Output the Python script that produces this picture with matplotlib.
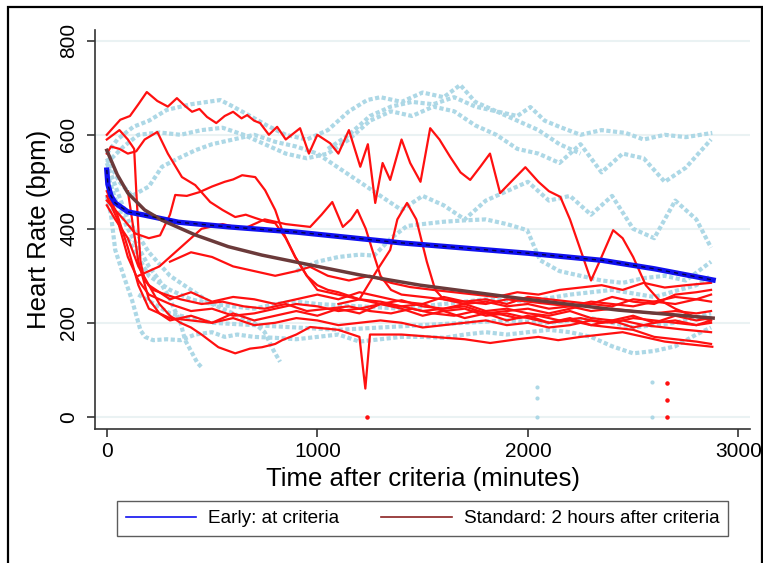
import matplotlib
matplotlib.use("Agg")
import matplotlib.pyplot as plt
from matplotlib.lines import Line2D
from matplotlib.patches import Rectangle

plt.rcParams['font.family'] = ['Liberation Sans', 'DejaVu Sans']

# ---- data (minutes, bpm) ----
# early group individual traces (light blue)
early_x1 = [0, 50, 126, 200, 285, 400, 539, 600, 681, 760, 850, 950, 1050, 1150, 1237, 1300, 1400, 1500, 1600,
            1679, 1750, 1850, 1950, 2012, 2080, 2150, 2250, 2350, 2464, 2550, 2650, 2750, 2876]
early_y1 = [560, 590, 617, 630, 653, 665, 674, 660, 640, 620, 600, 590, 610, 650, 674, 680, 670, 690, 680,
            706, 670, 650, 640, 659, 630, 617, 600, 610, 604, 590, 600, 595, 604]
early_x2 = [0, 80, 150, 250, 350, 450, 550, 650, 750, 850, 950, 1050, 1150, 1250, 1350, 1450, 1550, 1650,
            1750, 1850, 1950, 2050, 2150, 2250, 2350, 2450, 2550, 2650, 2750, 2870]
early_y2 = [540, 575, 600, 605, 600, 610, 615, 600, 580, 560, 550, 560, 590, 630, 650, 640, 660, 650,
            620, 600, 570, 560, 540, 580, 520, 560, 550, 500, 530, 590]
early_x3 = [0, 60, 120, 200, 262, 340, 420, 500, 600, 700, 800, 900, 1000, 1100, 1200, 1300, 1400, 1500,
            1600, 1700, 1800, 1900, 2000, 2100, 2200, 2300, 2400, 2500, 2600, 2700, 2800, 2870]
early_y3 = [550, 500, 470, 490, 532, 550, 567, 580, 590, 600, 585, 575, 560, 530, 500, 470, 440, 470,
            450, 420, 460, 480, 500, 460, 470, 430, 470, 400, 380, 460, 420, 360]
early_x4 = [900, 1000, 1100, 1200, 1270, 1350, 1426, 1500, 1600, 1700, 1800, 1900, 1997, 2058, 2150, 2250,
            2350, 2450, 2550, 2650, 2750, 2870]
early_y4 = [310, 330, 340, 345, 343, 380, 406, 410, 415, 418, 420, 410, 397, 333, 310, 300, 290, 285, 295,
            300, 290, 330]
early_x5 = [0, 20, 40, 80, 120, 160, 182, 220, 285, 350, 420, 500, 560, 620, 700, 800, 900, 1000, 1100,
            1200, 1300, 1400, 1500, 1600, 1700, 1800, 1900, 2000, 2100, 2200, 2300, 2400, 2500, 2600, 2700,
            2800, 2870]
early_y5 = [470, 430, 355, 300, 248, 184, 170, 163, 165, 163, 175, 180, 170, 175, 170, 168, 165, 170, 175,
            160, 165, 170, 170, 168, 175, 180, 175, 180, 185, 180, 170, 150, 135, 140, 150, 175, 190]
early_x6 = [0, 50, 100, 150, 200, 250, 300, 350, 372, 400, 430, 453]
early_y6 = [520, 450, 400, 360, 320, 290, 250, 200, 163, 140, 115, 104]
early_x7 = [0, 100, 200, 300, 400, 500, 600, 700, 750, 791, 823]
early_y7 = [540, 420, 350, 300, 270, 240, 220, 200, 180, 142, 117]
early_x8 = [100, 200, 300, 400, 500, 600, 700, 800, 900, 1000, 1200, 1400, 1600, 1800, 2000, 2200, 2400,
            2600, 2800, 2870]
early_y8 = [380, 300, 270, 250, 240, 235, 230, 240, 245, 240, 235, 230, 240, 250, 245, 260, 270, 255, 280, 300]
early_x9 = [150, 300, 500, 700, 900, 1100, 1300, 1500, 1700, 1900, 2100, 2300, 2500, 2700, 2870]
early_y9 = [260, 220, 200, 195, 190, 185, 190, 195, 200, 205, 200, 210, 190, 200, 220]
early_x10 = [1050, 1150, 1250, 1350, 1450, 1550, 1650, 1750, 1850, 1950, 2050, 2150, 2250]
early_y10 = [570, 600, 640, 660, 670, 665, 680, 660, 650, 630, 610, 580, 560]
early_out_x = [2045, 2045, 2045, 2590, 2590]
early_out_y = [63, 40, 0, 73, 0]

# standard group individual traces (red)
std_x1 = [0, 30, 64, 110, 150, 190, 240, 290, 333, 370, 405, 440, 476, 520, 560, 600, 640, 667, 700, 728,
          770, 809, 850, 918, 960, 1000, 1061, 1100, 1150, 1204, 1240, 1275, 1310, 1346, 1400, 1441, 1490,
          1536, 1580, 1631, 1680, 1726, 1774, 1820, 1868, 1920, 1988, 2050, 2100, 2154, 2200, 2264, 2300,
          2340, 2405, 2450, 2500, 2560, 2620, 2700, 2780, 2870]
std_y1 = [600, 615, 632, 640, 665, 691, 672, 660, 678, 662, 649, 655, 638, 625, 640, 649, 635, 642, 630, 625,
          600, 617, 590, 614, 560, 600, 582, 560, 610, 532, 580, 455, 540, 504, 590, 540, 500,
          614, 590, 553, 520, 504, 532, 560, 476, 500, 531, 500, 480, 468, 420, 337, 290,
          330, 397, 380, 340, 280, 250, 230, 215, 205]
std_x2 = [0, 20, 60, 100, 140, 180, 240, 290, 357, 420, 491, 550, 610, 660, 705, 760, 800, 850, 895, 950,
          1000, 1100, 1200, 1300, 1400, 1500, 1600, 1700, 1800, 1900, 2000, 2100, 2200, 2300, 2400, 2500,
          2600, 2700, 2800, 2870]
std_y2 = [560, 575, 570, 560, 565, 590, 606, 560, 510, 493, 457, 440, 425, 430, 423, 415, 412, 380, 340, 300,
          270, 260, 250, 240, 248, 235, 230, 240, 225, 230, 220, 215, 225, 210, 205, 215, 200, 205, 195, 200]
std_x3 = [0, 40, 80, 135, 200, 253, 300, 325, 380, 440, 500, 560, 600, 643, 705, 752, 800, 833, 895, 950,
          1000, 1050, 1100, 1200, 1300, 1400, 1500, 1600, 1700, 1800, 1900, 2000, 2100, 2200, 2300, 2400,
          2500, 2600, 2700, 2800, 2870]
std_y3 = [460, 440, 420, 390, 380, 386, 430, 472, 470, 478, 490, 500, 505, 514, 510, 482, 440, 397, 340, 300,
          280, 270, 265, 250, 245, 235, 240, 225, 230, 215, 220, 210, 200, 205, 195, 190, 185, 170, 165, 160,
          155]
std_x4 = [150, 250, 350, 450, 550, 650, 750, 850, 966, 1020, 1071, 1121, 1160, 1190, 1230, 1266, 1300, 1350,
          1400, 1500, 1600, 1700, 1800, 1900, 2000, 2100, 2200, 2300, 2400, 2500, 2600, 2700, 2800, 2870]
std_y4 = [300, 320, 360, 400, 410, 400, 420, 410, 404, 430, 457, 404, 420, 440, 400, 348, 300, 270, 260, 255,
          250, 245, 240, 250, 245, 240, 235, 245, 240, 235, 245, 240, 250, 245]
std_x5 = [1100, 1200, 1284, 1346, 1380, 1426, 1470, 1520, 1560, 1600, 1700, 1800, 1900, 2000, 2100, 2200,
          2300, 2400, 2500, 2600, 2700, 2800, 2870]
std_y5 = [240, 250, 312, 355, 420, 455, 420, 330, 270, 250, 240, 245, 235, 240, 230, 235, 225, 230, 225,
          220, 225, 220, 225]
std_x6 = [0, 30, 60, 100, 130, 140, 150, 160, 180, 220, 280, 350, 450, 550, 650, 750, 850, 950, 1050, 1150,
          1250, 1350, 1450, 1550, 1650, 1750, 1850, 1950, 2050, 2150, 2250, 2350, 2450, 2550, 2650, 2750, 2870]
std_y6 = [590, 600, 610, 590, 570, 480, 400, 330, 290, 270, 260, 250, 240, 245, 235, 230, 240, 225, 230, 235,
          225, 220, 230, 220, 215, 225, 220, 210, 215, 205, 210, 200, 205, 195, 190, 185, 180]
std_x7 = [0, 50, 100, 150, 200, 300, 400, 500, 600, 700, 800, 900, 1000, 1100, 1200, 1300, 1400, 1500, 1600,
          1700, 1800, 1900, 2000, 2100, 2200, 2300, 2400, 2500, 2600, 2700, 2800, 2870]
std_y7 = [470, 420, 340, 290, 260, 240, 225, 230, 215, 220, 230, 240, 235, 225, 230, 240, 235, 225, 230, 235,
          220, 225, 230, 220, 230, 240, 235, 250, 245, 255, 250, 260]
std_y8 = [480, 430, 360, 280, 230, 210, 205, 200, 210, 195, 200, 210, 205, 195, 200, 205, 200, 190, 195, 200,
          205, 195, 200, 190, 195, 205, 200, 210, 205, 200, 195, 205]
std_x9 = [0, 40, 100, 150, 200, 250, 300, 350, 400, 450, 530, 610, 680, 737, 800, 833, 900, 966, 1100, 1200,
          1210, 1228, 1250, 1400, 1550, 1700, 1821, 1950, 2050, 2144, 2250, 2350, 2450, 2550, 2650, 2750, 2876]
std_y9 = [450, 420, 380, 320, 280, 240, 215, 200, 190, 175, 148, 135, 145, 148, 155, 163, 175, 191, 185, 170,
          130, 60, 175, 175, 170, 165, 157, 165, 170, 163, 170, 175, 180, 170, 160, 155, 149]
std_x10 = [300, 400, 500, 600, 700, 800, 900, 966, 1050, 1150, 1250, 1350, 1441, 1550, 1650, 1750, 1850, 1950,
           2050, 2150, 2250, 2350, 2450, 2550, 2650, 2750, 2870]
std_y10 = [330, 350, 340, 320, 310, 300, 310, 319, 300, 290, 300, 285, 276, 270, 265, 260, 255, 265, 260,
           270, 275, 280, 270, 285, 275, 280, 285]
std_x11 = [100, 150, 200, 250, 300, 400, 500, 600, 700, 800, 900, 1000, 1100, 1200, 1300, 1400, 1500, 1600,
           1700, 1800, 1900, 2000, 2100, 2200, 2300, 2400, 2500, 2600, 2700, 2800, 2870]
std_y11 = [480, 330, 250, 220, 205, 215, 200, 220, 205, 215, 225, 215, 230, 220, 240, 230, 215, 225, 210,
           220, 205, 215, 200, 210, 195, 205, 190, 200, 215, 205, 210]
std_x12 = [200, 300, 400, 500, 600, 700, 800, 900, 1000, 1100, 1200, 1300, 1400, 1500, 1600, 1700, 1800,
           1900, 2000, 2100, 2200, 2300, 2400, 2500, 2600, 2700, 2800, 2870]
std_y12 = [280, 250, 265, 245, 255, 250, 240, 250, 260, 250, 265, 255, 245, 240, 255, 245, 250, 240, 255,
           250, 245, 240, 255, 245, 240, 260, 265, 270]
std_out_x = [1237, 2661, 2661, 2661]
std_out_y = [0, 71, 35, 0]

# fitted curves
fit_early_x = [0, 5, 20, 40, 100, 180, 340, 580, 900, 1400, 2000, 2350, 2600, 2880]
fit_early_y = [525, 495, 470, 455, 436, 429, 414, 404, 393, 370, 348, 333, 315, 291]
fit_std_x = [0, 50, 100, 180, 263, 420, 577, 737, 967, 1200, 1489, 1996, 2429, 2880]
fit_std_y = [567, 515, 476, 440, 418, 387, 362, 344, 323, 302, 280, 250, 227, 210]

early_traces = [(early_x1, early_y1), (early_x2, early_y2), (early_x3, early_y3), (early_x4, early_y4),
                (early_x5, early_y5), (early_x6, early_y6), (early_x7, early_y7), (early_x8, early_y8),
                (early_x9, early_y9), (early_x10, early_y10)]
std_traces = [(std_x1, std_y1), (std_x2, std_y2), (std_x3, std_y3), (std_x4, std_y4), (std_x5, std_y5),
              (std_x6, std_y6), (std_x7, std_y7), (std_x7, std_y8), (std_x9, std_y9), (std_x10, std_y10),
              (std_x11, std_y11), (std_x12, std_y12)]

light_blue = '#add8e6'
red = '#ff1010'
blue = '#1010f0'
brown = '#6b3a3a'

fig = plt.figure(figsize=(7.63, 5.63), dpi=100)
ax = fig.add_axes([95 / 763, 1 - 429 / 563, 655 / 763, 399 / 563])

for xs, ys in early_traces:
    ax.plot(xs, ys, color=light_blue, lw=3, linestyle=(0, (1, 0.6)), zorder=2)
ax.scatter(early_out_x, early_out_y, s=4, color=light_blue, zorder=2)

for xs, ys in std_traces:
    ax.plot(xs, ys, color=red, lw=1.6, zorder=3)
ax.scatter(std_out_x, std_out_y, s=5, color=red, zorder=3)

ax.plot(fit_early_x, fit_early_y, color=blue, lw=3.8, zorder=5)
ax.plot(fit_early_x, fit_early_y, color='black', lw=1, linestyle=(0, (3, 3)), zorder=6, alpha=0.7)
ax.plot(fit_std_x, fit_std_y, color=brown, lw=2.5, zorder=5)

ax.set_xlim(-56, 3055)
ax.set_ylim(-26, 823)
ax.set_xticks([0, 1000, 2000, 3000])
ax.set_yticks([0, 200, 400, 600, 800])
ax.grid(axis='y', color='#eaf2f3', lw=1.5)
ax.set_axisbelow(True)
for s in ['top', 'right']:
    ax.spines[s].set_visible(False)
for s in ['left', 'bottom']:
    ax.spines[s].set_color('#333333')
    ax.spines[s].set_linewidth(1.2)
ax.tick_params(axis='both', direction='out', length=6, width=1.2, color='#333333', labelsize=15)
ax.tick_params(axis='y', labelrotation=90, pad=6)
for lab in ax.get_yticklabels():
    lab.set_va('center')
ax.set_xlabel('Time after criteria (minutes)', fontsize=18.5, labelpad=4)
ax.set_ylabel('Heart Rate (bpm)', fontsize=18.5, labelpad=6)

handles = [Line2D([], [], color=blue, lw=1.2), Line2D([], [], color='#8b2323', lw=1.2)]
fig.legend(handles, ['Early: at criteria', 'Standard: 2 hours after criteria'],
           loc='center', bbox_to_anchor=(422.5 / 763, 1 - 518.5 / 563), ncol=2, fontsize=13.7,
           frameon=True, fancybox=False, edgecolor='#333333', handlelength=3.7, handletextpad=0.63,
           columnspacing=2.2, borderpad=0.45, borderaxespad=0)
fig.legends[0].get_frame().set_linewidth(1.0)

# outer frame of the figure
fig.patches.append(Rectangle((8 / 763, -0.05), 754 / 763, 1 - 7 / 563 + 0.05, transform=fig.transFigure,
                             fill=False, edgecolor='black', lw=1.6))

fig.savefig('out.png', dpi=100)
